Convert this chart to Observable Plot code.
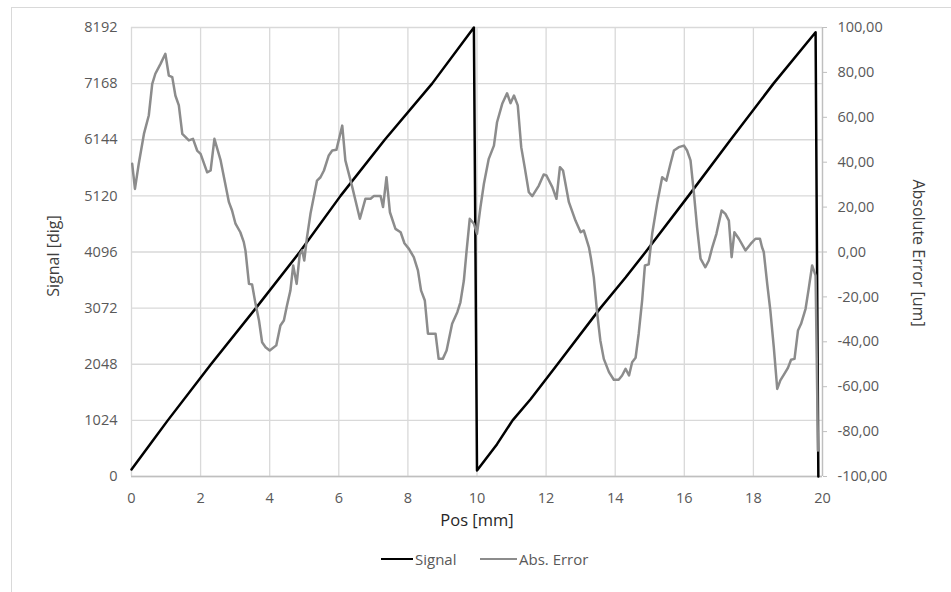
<!DOCTYPE html>
<html>
<head>
<meta charset="utf-8">
<script src="https://cdn.jsdelivr.net/npm/d3@7"></script>
<script src="https://cdn.jsdelivr.net/npm/@observablehq/plot@0.6"></script>
<style>
  html, body { margin: 0; padding: 0; background: #fff; overflow: hidden; }
  #wrap { position: relative; width: 951px; height: 592px; }
  #frame { position: absolute; left: 11px; top: 7px; width: 1000px; height: 700px; border: 1px solid #d9d9d9; pointer-events: none; }
  #legend { position: absolute; top: 548px; left: 0; width: 951px; height: 22px; font-family: "Open Sans", sans-serif; font-size: 15px; color: #595959; }
  .li { position: absolute; top: 0; display: flex; align-items: center; height: 22px; }
  .sw { display: inline-block; width: 32px; height: 2.5px; margin-right: 2px; }
</style>
</head>
<body>
<div id="wrap">
  <div id="chart"></div>
  <div id="frame"></div>
  <div id="legend">
    <div class="li" style="left:381px"><span class="sw" style="background:#000"></span><span>Signal</span></div>
    <div class="li" style="left:480px"><span class="sw" style="background:#8c8c8c;width:37px"></span><span>Abs. Error</span></div>
  </div>
</div>
<script>
// X ticks (mm), left-axis ticks (dig), right-axis ticks (um)
const xTicks = [0, 2, 4, 6, 8, 10, 12, 14, 16, 18, 20];
const signalTicks = [0, 1024, 2048, 3072, 4096, 5120, 6144, 7168, 8192];
const errorTicks = [-100, -80, -60, -40, -20, 0, 20, 40, 60, 80, 100];

// Signal series
const signalPos = [0, 0.55, 1.05, 2.3, 3.6, 4.87, 6.05, 7.33, 8.7, 9.91,
  10.0, 10.58, 11.03, 11.55, 12.33, 13.57, 14.3, 14.88, 16.12, 17.34, 18.58, 19.8, 19.88];
const signalVal = [128, 598, 1024, 2048, 3072, 4096, 5120, 6144, 7168, 8192,
  110, 590, 1024, 1410, 2048, 3072, 3630, 4096, 5120, 6144, 7168, 8106, 0];

// Absolute error series
const errorPos = [0.02, 0.1, 0.21, 0.36, 0.5, 0.6, 0.69, 0.84, 0.98, 1.08, 1.18, 1.27, 1.37, 1.47, 1.66, 1.78, 1.9, 2.0, 2.19, 2.29,
  2.4, 2.58, 2.82, 2.91, 3.01, 3.15, 3.25, 3.3, 3.4, 3.49, 3.59, 3.69, 3.78, 3.88, 4.0, 4.19, 4.31, 4.41, 4.5, 4.6, 4.68, 4.78,
  4.87, 4.94, 5.0, 5.08, 5.18, 5.37, 5.47, 5.57, 5.71, 5.81, 5.93, 6.1, 6.19, 6.39, 6.61, 6.77, 6.92, 7.01, 7.21, 7.28, 7.38,
  7.48, 7.64, 7.79, 7.9, 8.03, 8.17, 8.29, 8.38, 8.49, 8.58, 8.8, 8.89, 9.01, 9.12, 9.28, 9.43, 9.52, 9.62, 9.7, 9.79, 9.91,
  10.0, 10.1, 10.2, 10.34, 10.49, 10.58, 10.73, 10.87, 10.97, 11.07, 11.18, 11.28, 11.38, 11.5, 11.6, 11.79, 11.93, 12.01,
  12.18, 12.3, 12.4, 12.49, 12.66, 12.85, 13.0, 13.09, 13.24, 13.3, 13.38, 13.48, 13.57, 13.67, 13.82, 13.96, 14.1, 14.2,
  14.3, 14.4, 14.49, 14.59, 14.68, 14.78, 14.86, 14.97, 15.07, 15.22, 15.36, 15.48, 15.6, 15.7, 15.84, 15.99, 16.08, 16.18,
  16.28, 16.37, 16.47, 16.61, 16.71, 16.81, 16.93, 17.08, 17.19, 17.29, 17.37, 17.45, 17.58, 17.77, 17.92, 18.06, 18.19,
  18.25, 18.3, 18.4, 18.49, 18.59, 18.69, 18.78, 18.9, 19.0, 19.09, 19.19, 19.29, 19.38, 19.51, 19.6, 19.7, 19.8, 19.87];
const errorVal = [39.3, 28.1, 39.3, 52.6, 60.8, 74.9, 79.4, 83.8, 88.3, 78.6, 77.9, 69.7, 65.3, 52.6, 49.7, 50.4, 45.2, 43.7, 35.5, 36.3,
  50.4, 40.8, 22.2, 18.5, 12.6, 8.8, 4.4, 0.5, -14.2, -14.5, -23.1, -30.5, -40.2, -42.4, -43.9, -41.6, -32.7, -30.5, -23.8, -17.1, -6, -14.2,
  -1, 0.7, -3.8, 6.6, 17, 31.8, 33.3, 36.3, 43, 45.2, 45.5, 56.3, 40.8, 28.9, 14.8, 23.7, 23.7, 24.9, 24.9, 20, 33.3,
  17.7, 10.3, 8.8, 3.9, 1.4, -2.3, -8.2, -17.1, -21.6, -36.4, -36.4, -47.6, -47.6, -43.9, -32, -26.8, -22.4, -12.7, 0.7, 14.8, 12.6,
  8.1, 20, 30.4, 41.5, 47.4, 57.8, 66, 70.7, 66.3, 69.7, 65.3, 46.7, 37.8, 26.6, 24.9, 29.6, 34.5, 34.1,
  28.9, 23.7, 37.8, 36.3, 22.2, 14, 8.8, 9.6, 2.1, -3, -11.2, -27.5, -39.4, -47.6, -53.5, -56.9, -56.9, -55,
  -52, -55, -49.1, -47.1, -36.4, -21.6, -6, -5.5, 8.1, 22.2, 33.3, 31.8, 39.3, 45.2, 46.7, 47.4, 45.2, 40.8,
  25.9, 11, -3, -6.8, -3.8, 2.1, 8.1, 18.5, 17, 14, -2.3, 8.8, 5.9, 0.7, 3.6, 5.9, 5.9,
  2.1, 0, -14.2, -26, -42.4, -61, -57.2, -54.2, -51.6, -48, -47.6, -35, -32, -25.3, -16.4, -6, -10.5, -88.4];

const sigMax = 8192, errMin = -100, errMax = 100;
const toSig = e => (e - errMin) / (errMax - errMin) * sigMax;
const fromSig = s => errMin + s / sigMax * (errMax - errMin);
const fmtErr = v => (Math.round(v * 100) / 100).toFixed(2).replace(".", ",");

const signalData = signalPos.map((p, i) => ({pos: p, val: signalVal[i]}));
const errorData = errorPos.map((p, i) => ({pos: p, val: toSig(errorVal[i])}));

const chart = Plot.plot({
  width: 951,
  height: 592,
  marginLeft: 131,
  marginRight: 129,
  marginTop: 27,
  marginBottom: 116,
  style: {fontFamily: "'Open Sans', sans-serif", fontSize: "14.5px", color: "#595959", background: "transparent", overflow: "visible"},
  x: {domain: [0, 20]},
  y: {domain: [0, sigMax]},
  marks: [
    Plot.gridX(xTicks, {stroke: "#d9d9d9", strokeOpacity: 1, strokeWidth: 1.3}),
    Plot.gridY(signalTicks, {stroke: "#d9d9d9", strokeOpacity: 1, strokeWidth: 1.3}),
    Plot.ruleY([0], {stroke: "#bfbfbf", strokeWidth: 1.3}),
    Plot.ruleX([20], {stroke: "#bfbfbf", strokeWidth: 1.3}),
    Plot.axisX(xTicks, {tickSize: 0, tickPadding: 16, label: null, fill: "#595959"}),
    Plot.axisY(signalTicks, {tickSize: 0, tickPadding: 14, label: null, fill: "#595959", tickFormat: d => String(d)}),
    Plot.axisY(errorTicks.map(toSig), {anchor: "right", tickSize: 4, tickPadding: 11, label: null,
      tickFormat: d => fmtErr(fromSig(d)), stroke: "#bfbfbf", fill: "#595959", textAnchor: "start"}),
    Plot.text(["Signal [dig]"], {frameAnchor: "left", dx: -78, dy: 4, rotate: -90, textAnchor: "middle", fill: "#404040", fontSize: 16}),
    Plot.text(["Absolute Error [um]"], {frameAnchor: "right", dx: 96, dy: 1, rotate: 90, textAnchor: "middle", fill: "#404040", fontSize: 16}),
    Plot.text(["Pos [mm]"], {frameAnchor: "bottom", dy: 49, fill: "#262626", fontSize: 16.5}),
    Plot.line(signalData, {x: "pos", y: "val", stroke: "#000", strokeWidth: 2.5, strokeLinejoin: "round"}),
    Plot.line(errorData, {x: "pos", y: "val", stroke: "#8c8c8c", strokeWidth: 2.5, strokeLinejoin: "round"})
  ]
});
document.getElementById("chart").appendChild(chart);
</script>
</body>
</html>
